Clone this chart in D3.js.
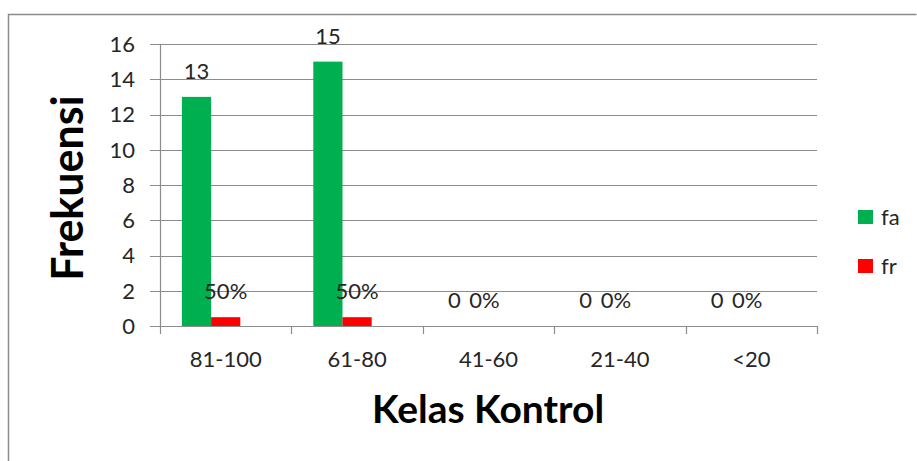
<!DOCTYPE html>
<html>
<head>
<meta charset="utf-8">
<script src="https://cdn.jsdelivr.net/npm/d3@7"></script>
<style>
  body { margin: 0; background: #fff; }
  svg { display: block; font-family: Lato, "Open Sans", sans-serif; }
</style>
</head>
<body>
<svg width="917" height="461"></svg>
<script>
let categories = ["81-100", "61-80", "41-60", "21-40", "<20"];
let fa = [13, 15, 0, 0, 0];
let fr = [0.5, 0.5, 0, 0, 0];
let yTicks = [0, 2, 4, 6, 8, 10, 12, 14, 16];
let seriesNames = ["fa", "fr"];
let seriesColors = ["#00b050", "#ff0000"];

let svg = d3.select("svg");

// outer chart border (only top and left are visible in the crop)
svg.append("path")
    .attr("d", "M8.5,461 V14.5 H916.5")
    .attr("fill", "none")
    .attr("stroke", "#8c8c8c")
    .attr("stroke-width", 1.5);

let plotLeft = 160, plotRight = 817, plotTop = 44, plotBottom = 326;

let x0 = d3.scaleBand().domain(categories).range([plotLeft, plotRight]).padding(0);
// three slots per group, the third one is empty (as in the original sheet)
let x1 = d3.scaleBand().domain(["fa", "fr", "_"]).range([0, x0.bandwidth()]).paddingOuter(0.75).paddingInner(0);
let y = d3.scaleLinear().domain([0, 16]).range([plotBottom, plotTop]);

// gridlines
svg.append("g")
    .selectAll("line")
    .data(yTicks)
    .enter()
    .append("line")
    .attr("x1", plotLeft - 10)
    .attr("x2", plotRight)
    .attr("y1", (d) => Math.round(y(d)) + 0.5)
    .attr("y2", (d) => Math.round(y(d)) + 0.5)
    .attr("stroke", "#8c8c8c")
    .attr("stroke-width", 1.2);

// y tick labels
svg.append("g")
    .selectAll("text")
    .data(yTicks)
    .enter()
    .append("text")
    .attr("x", plotLeft - 25)
    .attr("y", (d) => y(d))
    .attr("dy", "0.36em")
    .attr("text-anchor", "end")
    .attr("font-size", 22)
    .attr("fill", "#262626")
    .text((d) => d);

// y axis line
svg.append("line")
    .attr("x1", plotLeft + 0.5).attr("x2", plotLeft + 0.5)
    .attr("y1", plotTop).attr("y2", plotBottom)
    .attr("stroke", "#8c8c8c")
    .attr("stroke-width", 1.2);

// x axis with ticks between categories
let xTickPos = categories.map((c) => x0(c)).concat([plotRight]);
svg.append("g")
    .selectAll("line")
    .data(xTickPos)
    .enter()
    .append("line")
    .attr("x1", (d) => Math.round(d) + 0.5)
    .attr("x2", (d) => Math.round(d) + 0.5)
    .attr("y1", plotBottom)
    .attr("y2", plotBottom + 8)
    .attr("stroke", "#8c8c8c")
    .attr("stroke-width", 1.2);

svg.append("g")
    .selectAll("text")
    .data(categories)
    .enter()
    .append("text")
    .attr("x", (d) => x0(d) + x0.bandwidth() / 2)
    .attr("y", 367)
    .attr("text-anchor", "middle")
    .attr("font-size", 22)
    .attr("fill", "#262626")
    .text((d) => d);

// bars
let rows = categories.map((c, i) => ({ cat: c, fa: fa[i], fr: fr[i] }));

let groups = svg.append("g")
    .selectAll("g")
    .data(rows)
    .enter()
    .append("g")
    .attr("transform", (d) => `translate(${x0(d.cat)},0)`);

groups.selectAll("rect")
    .data((d) => seriesNames.map((k, i) => ({ key: k, value: d[k], color: seriesColors[i] })))
    .enter()
    .append("rect")
    .attr("x", (d) => x1(d.key))
    .attr("width", x1.bandwidth())
    .attr("y", (d) => y(d.value))
    .attr("height", (d) => y(0) - y(d.value))
    .attr("fill", (d) => d.color);

// data labels (zero labels of both series sit side by side, nudged apart)
groups.selectAll("text")
    .data((d) => seriesNames.map((k) => ({ key: k, value: d[k] })))
    .enter()
    .append("text")
    .attr("x", (d) => x1(d.key) + x1.bandwidth() / 2 + (d.value === 0 ? (d.key === "fr" ? -4 : -5) : 0))
    .attr("y", (d) => y(d.value) - 18)
    .attr("text-anchor", "middle")
    .attr("font-size", 22)
    .attr("fill", "#262626")
    .text((d) => d.key === "fr" ? d3.format(".0%")(d.value) : d.value);

// axis titles
svg.append("text")
    .attr("transform", "translate(83,188) rotate(-90)")
    .attr("text-anchor", "middle")
    .attr("font-size", 43)
    .attr("font-weight", "bold")
    .attr("fill", "#000")
    .text("Frekuensi");

svg.append("text")
    .attr("x", 488)
    .attr("y", 423)
    .attr("text-anchor", "middle")
    .attr("font-size", 39)
    .attr("font-weight", "bold")
    .attr("fill", "#000")
    .text("Kelas Kontrol");

// legend
let legend = svg.append("g")
    .selectAll("g")
    .data(seriesNames)
    .enter()
    .append("g")
    .attr("transform", (d, i) => `translate(858,${210 + i * 49})`);

legend.append("rect")
    .attr("width", 15)
    .attr("height", 14)
    .attr("fill", (d, i) => seriesColors[i]);

legend.append("text")
    .attr("x", 23)
    .attr("y", 7)
    .attr("dy", "0.36em")
    .attr("font-size", 22)
    .attr("fill", "#262626")
    .text((d) => d);
</script>
</body>
</html>
